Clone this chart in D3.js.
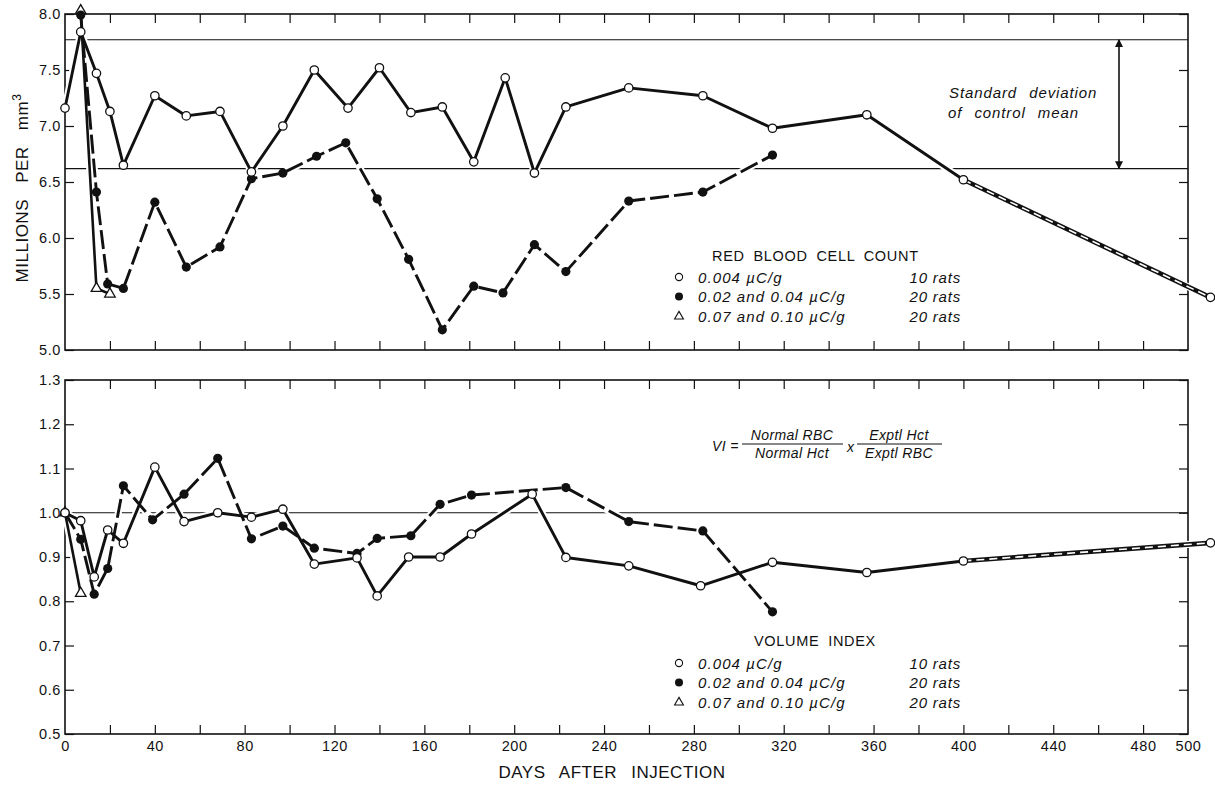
<!DOCTYPE html>
<html>
<head>
<meta charset="utf-8">
<script src="https://cdn.jsdelivr.net/npm/d3@7"></script>
<style>
  body { margin: 0; background: #fff; }
  svg { display: block; background: #fff; }
  text { font-family: "Liberation Sans", Arial, sans-serif; fill: #111; }
  .it { font-style: italic; }
</style>
</head>
<body>
<svg id="chart" width="1215" height="792"></svg>
<script>
// ---- Red blood cell count (millions per mm3) ----
const rbcLowDays = [0, 7, 14, 20, 26, 40, 54, 69, 83, 97, 111, 126, 140, 154, 168, 182, 196, 209, 223, 251, 284, 315, 357, 400, 510];
const rbcLowVals = [7.16, 7.84, 7.47, 7.13, 6.65, 7.27, 7.09, 7.13, 6.59, 7.00, 7.50, 7.16, 7.52, 7.12, 7.17, 6.68, 7.43, 6.58, 7.17, 7.34, 7.27, 6.98, 7.10, 6.52, 5.47];

const rbcMidDays = [7, 14, 19, 26, 40, 54, 69, 83, 97, 112, 125, 139, 153, 168, 182, 195, 209, 223, 251, 284, 315];
const rbcMidVals = [7.99, 6.41, 5.59, 5.55, 6.32, 5.74, 5.92, 6.53, 6.58, 6.73, 6.85, 6.35, 5.81, 5.18, 5.57, 5.51, 5.94, 5.70, 6.33, 6.41, 6.74];

const rbcHighDays = [7, 14, 20];
const rbcHighVals = [8.03, 5.55, 5.50];

// control mean +/- one standard deviation
const rbcControlBand = [6.62, 7.77];

// ---- Volume index ----
const viLowDays = [0, 7, 13, 19, 26, 40, 53, 68, 83, 97, 111, 130, 139, 153, 167, 181, 208, 223, 251, 283, 315, 357, 400, 510];
const viLowVals = [1.00, 0.982, 0.855, 0.961, 0.931, 1.103, 0.98, 1.00, 0.99, 1.008, 0.884, 0.898, 0.812, 0.90, 0.90, 0.952, 1.042, 0.899, 0.88, 0.835, 0.888, 0.865, 0.891, 0.932];

const viMidDays = [0, 7, 13, 19, 26, 39, 53, 68, 83, 97, 111, 130, 139, 154, 167, 181, 223, 251, 284, 315];
const viMidVals = [1.00, 0.94, 0.816, 0.874, 1.061, 0.984, 1.042, 1.123, 0.941, 0.97, 0.92, 0.908, 0.942, 0.948, 1.019, 1.04, 1.057, 0.98, 0.959, 0.776];

const viHighDays = [0, 7];
const viHighVals = [1.00, 0.818];

const viReference = [1.0];

// ---- Axis ticks and labels ----
const dayMinorTicks = d3.range(20, 500, 20);
const dayLabels = [0, 40, 80, 120, 160, 200, 240, 280, 320, 360, 400, 440, 480, 500];
const rbcTicks = [5.0, 5.5, 6.0, 6.5, 7.0, 7.5, 8.0];
const viTicks = [0.5, 0.6, 0.7, 0.8, 0.9, 1.0, 1.1, 1.2, 1.3];

const legendRows = [
  { dose: "0.004 \u00b5C/g", rats: "10 rats", kind: "open" },
  { dose: "0.02 and 0.04 \u00b5C/g", rats: "20 rats", kind: "filled" },
  { dose: "0.07 and 0.10 \u00b5C/g", rats: "20 rats", kind: "triangle" }
];

// ---- Layout ----
const svg = d3.select("#chart");
const x = d3.scaleLinear().domain([0, 500]).range([65, 1188]);
const yR = d3.scaleLinear().domain([5, 8]).range([350, 14]);
const yV = d3.scaleLinear().domain([0.5, 1.3]).range([734, 380]);

const pts = (days, vals) => d3.zip(days, vals).map(([d, v]) => ({ d, v }));

const defs = svg.append("defs");
defs.append("marker")
  .attr("id", "arrowhead").attr("viewBox", "0 0 10 10")
  .attr("refX", 9).attr("refY", 5)
  .attr("markerWidth", 10).attr("markerHeight", 8)
  .attr("markerUnits", "userSpaceOnUse")
  .attr("orient", "auto-start-reverse")
  .append("path").attr("d", "M0,0 L10,5 L0,10 Z").attr("fill", "#111");

function styleLabels(s) {
  s.selectAll("text").attr("fill", "#111")
    .style("font-size", "14.5px").style("letter-spacing", "0.6px");
}

function drawFrame(y, ticks, fmt) {
  const g = svg.append("g");
  const [y0, y1] = y.range();
  const [x0, x1] = x.range();
  // inward day ticks along top and bottom edges
  g.append("g").attr("transform", `translate(0,${y1})`)
    .call(d3.axisBottom(x).tickValues(dayMinorTicks).tickSize(9).tickFormat(""))
    .call(s => s.select(".domain").remove());
  g.append("g").attr("transform", `translate(0,${y0})`)
    .call(d3.axisTop(x).tickValues(dayMinorTicks).tickSize(9).tickFormat(""))
    .call(s => s.select(".domain").remove());
  // inward value ticks on both sides
  g.append("g").attr("transform", `translate(${x0},0)`)
    .call(d3.axisRight(y).tickValues(ticks).tickSize(9).tickFormat(""))
    .call(s => s.select(".domain").remove());
  g.append("g").attr("transform", `translate(${x1},0)`)
    .call(d3.axisLeft(y).tickValues(ticks).tickSize(9).tickFormat(""))
    .call(s => s.select(".domain").remove());
  // value labels
  g.append("g").attr("transform", `translate(${x0},0)`)
    .call(d3.axisLeft(y).tickValues(ticks).tickSize(0).tickPadding(4).tickFormat(fmt))
    .call(s => s.select(".domain").remove())
    .call(styleLabels);
  g.selectAll(".tick line").attr("stroke", "#111").attr("stroke-width", 1.2);
  g.append("rect")
    .attr("x", x0).attr("y", y1).attr("width", x1 - x0).attr("height", y0 - y1)
    .attr("fill", "none").attr("stroke", "#111").attr("stroke-width", 1.6);
  return g;
}

function drawRefLines(y, vals) {
  svg.append("g").selectAll("line").data(vals).join("line")
    .attr("x1", x.range()[0]).attr("x2", x.range()[1])
    .attr("y1", d => y(d)).attr("y2", d => y(d))
    .attr("stroke", "#111").attr("stroke-width", 1.2);
}

function drawSeries(y, low, mid, high) {
  const line = d3.line().x(p => x(p.d)).y(p => y(p.v));
  const lowSolid = low.filter(p => p.d <= 400);
  const lowTail = low.filter(p => p.d >= 400);
  // white halo so crossed rules and frame break around the curves
  const halo = svg.append("g").attr("fill", "none").attr("stroke", "#fff")
    .attr("stroke-width", 7).attr("stroke-linejoin", "round").attr("stroke-linecap", "round");
  [low, mid, high].forEach(s => halo.append("path").attr("d", line(s)));

  const g = svg.append("g").attr("fill", "none").attr("stroke", "#111")
    .attr("stroke-linejoin", "round");
  g.append("path").attr("d", line(high)).attr("stroke-width", 2.6);
  g.append("path").attr("d", line(mid)).attr("stroke-width", 2.9)
    .attr("stroke-dasharray", "19,5");
  g.append("path").attr("d", line(lowSolid)).attr("stroke-width", 2.9);
  // striped extrapolated tail
  g.append("path").attr("d", line(lowTail)).attr("stroke-width", 4.6);
  g.append("path").attr("d", line(lowTail)).attr("stroke", "#fff")
    .attr("stroke-width", 1.6).attr("stroke-dasharray", "8,5");

  const m = svg.append("g");
  m.selectAll("path.tri").data(high).join("path").attr("class", "tri")
    .attr("d", d3.symbol(d3.symbolTriangle).size(48))
    .attr("transform", p => `translate(${x(p.d)},${y(p.v)})`)
    .attr("fill", "#fff").attr("stroke", "#111").attr("stroke-width", 1.3);
  m.selectAll("circle.mid").data(mid).join("circle").attr("class", "mid")
    .attr("cx", p => x(p.d)).attr("cy", p => y(p.v)).attr("r", 4.6)
    .attr("fill", "#111");
  m.selectAll("circle.low").data(low).join("circle").attr("class", "low")
    .attr("cx", p => x(p.d)).attr("cy", p => y(p.v)).attr("r", 4.2)
    .attr("fill", "#fff").attr("stroke", "#111").attr("stroke-width", 1.3);
}

function drawLegend(title, titleX, titleY, rowY, markerX, textX, ratsX) {
  const g = svg.append("g");
  g.append("text").attr("x", titleX).attr("y", titleY)
    .style("font-size", "14.5px").style("letter-spacing", "0.7px")
    .style("word-spacing", "4px").text(title);
  legendRows.forEach((r, i) => {
    const cy = rowY + i * 19.5;
    if (r.kind === "open") {
      g.append("circle").attr("cx", markerX).attr("cy", cy).attr("r", 3.6)
        .attr("fill", "#fff").attr("stroke", "#111").attr("stroke-width", 1.1);
    } else if (r.kind === "filled") {
      g.append("circle").attr("cx", markerX).attr("cy", cy).attr("r", 4).attr("fill", "#111");
    } else {
      g.append("path").attr("d", d3.symbol(d3.symbolTriangle).size(34))
        .attr("transform", `translate(${markerX},${cy + 0.5})`)
        .attr("fill", "#fff").attr("stroke", "#111").attr("stroke-width", 1.1);
    }
    g.append("text").attr("class", "it").attr("x", textX).attr("y", cy + 5.5)
      .style("font-size", "15px").style("letter-spacing", "1.1px").text(r.dose);
    g.append("text").attr("class", "it").attr("x", ratsX).attr("y", cy + 5.5)
      .attr("text-anchor", "end").style("font-size", "15px").style("letter-spacing", "0.8px")
      .text(r.rats);
  });
}

// ---- Upper panel: red blood cell count ----
drawFrame(yR, rbcTicks, d3.format(".1f"));
drawRefLines(yR, rbcControlBand);
drawSeries(yR, pts(rbcLowDays, rbcLowVals), pts(rbcMidDays, rbcMidVals), pts(rbcHighDays, rbcHighVals));

svg.append("line")
  .attr("x1", 1119).attr("x2", 1119)
  .attr("y1", yR(rbcControlBand[1])).attr("y2", yR(rbcControlBand[0]))
  .attr("stroke", "#111").attr("stroke-width", 1.6)
  .attr("marker-start", "url(#arrowhead)").attr("marker-end", "url(#arrowhead)");
svg.append("text").attr("class", "it").attr("x", 949).attr("y", 98)
  .style("font-size", "15px").style("letter-spacing", "0.9px").style("word-spacing", "7px")
  .text("Standard deviation");
svg.append("text").attr("class", "it").attr("x", 948).attr("y", 118)
  .style("font-size", "15px").style("letter-spacing", "0.9px").style("word-spacing", "7px")
  .text("of control mean");

drawLegend("RED BLOOD CELL COUNT", 712, 261, 277, 679, 698, 961);

const yTitle = svg.append("text")
  .attr("transform", "translate(28,188) rotate(-90)")
  .attr("text-anchor", "middle")
  .style("font-size", "17px").style("letter-spacing", "0.5px").style("word-spacing", "11px");
yTitle.append("tspan").text("MILLIONS PER mm");
yTitle.append("tspan").attr("dy", -7).style("font-size", "12px").text("3");

// ---- Lower panel: volume index ----
drawFrame(yV, viTicks, d3.format(".1f"));
drawRefLines(yV, viReference);
drawSeries(yV, pts(viLowDays, viLowVals), pts(viMidDays, viMidVals), pts(viHighDays, viHighVals));

// day labels under the lower panel
svg.append("g").attr("transform", `translate(0,${yV.range()[0]})`)
  .call(d3.axisBottom(x).tickValues(dayLabels).tickSize(0).tickPadding(7).tickFormat(d3.format("d")))
  .call(s => s.select(".domain").remove())
  .call(styleLabels);

svg.append("text").attr("x", 612).attr("y", 778).attr("text-anchor", "middle")
  .style("font-size", "17px").style("letter-spacing", "0.5px").style("word-spacing", "9px")
  .text("DAYS AFTER INJECTION");

drawLegend("VOLUME INDEX", 754, 646, 663, 679, 698, 961);

// volume index definition
const f = svg.append("g").style("font-size", "14px").style("letter-spacing", "0.4px");
f.append("text").attr("class", "it").attr("x", 712).attr("y", 451).text("VI =");
f.append("text").attr("class", "it").attr("x", 792).attr("y", 440).attr("text-anchor", "middle").text("Normal RBC");
f.append("text").attr("class", "it").attr("x", 792).attr("y", 458).attr("text-anchor", "middle").text("Normal Hct");
f.append("line").attr("x1", 742).attr("x2", 843).attr("y1", 444).attr("y2", 444).attr("stroke", "#111").attr("stroke-width", 1.1);
f.append("text").attr("class", "it").attr("x", 847).attr("y", 452).text("x");
f.append("text").attr("class", "it").attr("x", 899).attr("y", 440).attr("text-anchor", "middle").text("Exptl Hct");
f.append("text").attr("class", "it").attr("x", 899).attr("y", 458).attr("text-anchor", "middle").text("Exptl RBC");
f.append("line").attr("x1", 857).attr("x2", 942).attr("y1", 444).attr("y2", 444).attr("stroke", "#111").attr("stroke-width", 1.1);
</script>
</body>
</html>
